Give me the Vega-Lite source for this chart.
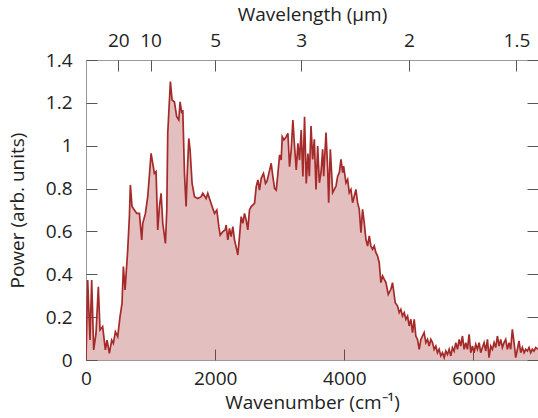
{
  "$schema": "https://vega.github.io/schema/vega-lite/v6.json",
  "width": 452,
  "height": 300,
  "autosize": "none",
  "padding": {"left": 86, "top": 60, "right": 0, "bottom": 58},
  "background": "white",
  "config": {
    "view": {"stroke": "#999999", "strokeWidth": 1},
    "font": "Open Sans",
    "axis": {
      "grid": false,
      "domain": false,
      "labelFlush": false,
      "labelFont": "Open Sans",
      "titleFont": "Open Sans",
      "labelFontSize": 19,
      "titleFontSize": 19,
      "labelColor": "#222222",
      "titleColor": "#222222",
      "titleFontWeight": "normal",
      "tickColor": "#555555",
      "tickWidth": 1
    }
  },
  "data": {"values": [
    {"wn": 0, "power": 0}, {"wn": 26, "power": 0.373}, {"wn": 62, "power": 0.093}, {"wn": 88, "power": 0.373},
    {"wn": 119, "power": 0.047}, {"wn": 155, "power": 0.124}, {"wn": 191, "power": 0.342}, {"wn": 217, "power": 0.14},
    {"wn": 258, "power": 0.156}, {"wn": 300, "power": 0.047}, {"wn": 326, "power": 0.093}, {"wn": 362, "power": 0.031},
    {"wn": 398, "power": 0.093}, {"wn": 424, "power": 0.078}, {"wn": 455, "power": 0.132}, {"wn": 491, "power": 0.109},
    {"wn": 527, "power": 0.202}, {"wn": 558, "power": 0.264}, {"wn": 579, "power": 0.436}, {"wn": 605, "power": 0.327},
    {"wn": 646, "power": 0.513}, {"wn": 672, "power": 0.669}, {"wn": 687, "power": 0.817}, {"wn": 713, "power": 0.716},
    {"wn": 749, "power": 0.70}, {"wn": 786, "power": 0.684}, {"wn": 827, "power": 0.684}, {"wn": 863, "power": 0.56},
    {"wn": 879, "power": 0.638}, {"wn": 920, "power": 0.684}, {"wn": 956, "power": 0.762}, {"wn": 1008, "power": 0.964},
    {"wn": 1059, "power": 0.871}, {"wn": 1085, "power": 0.879}, {"wn": 1111, "power": 0.607}, {"wn": 1137, "power": 0.716},
    {"wn": 1163, "power": 0.778}, {"wn": 1189, "power": 0.638}, {"wn": 1230, "power": 0.544}, {"wn": 1251, "power": 0.70},
    {"wn": 1266, "power": 1.058}, {"wn": 1307, "power": 1.299}, {"wn": 1333, "power": 1.213}, {"wn": 1369, "power": 1.205},
    {"wn": 1405, "power": 1.135}, {"wn": 1437, "power": 1.12}, {"wn": 1457, "power": 1.205}, {"wn": 1483, "power": 1.151},
    {"wn": 1499, "power": 1.167}, {"wn": 1525, "power": 0.871}, {"wn": 1550, "power": 0.716}, {"wn": 1566, "power": 0.856},
    {"wn": 1592, "power": 1.034}, {"wn": 1612, "power": 0.98}, {"wn": 1643, "power": 0.824}, {"wn": 1680, "power": 0.762},
    {"wn": 1731, "power": 0.754}, {"wn": 1783, "power": 0.762}, {"wn": 1809, "power": 0.778}, {"wn": 1860, "power": 0.754},
    {"wn": 1886, "power": 0.778}, {"wn": 1912, "power": 0.754}, {"wn": 1953, "power": 0.716}, {"wn": 1990, "power": 0.684},
    {"wn": 2026, "power": 0.70}, {"wn": 2057, "power": 0.622}, {"wn": 2078, "power": 0.583}, {"wn": 2119, "power": 0.599},
    {"wn": 2155, "power": 0.607}, {"wn": 2171, "power": 0.63}, {"wn": 2196, "power": 0.56}, {"wn": 2222, "power": 0.614},
    {"wn": 2248, "power": 0.576}, {"wn": 2274, "power": 0.622}, {"wn": 2300, "power": 0.56}, {"wn": 2336, "power": 0.513},
    {"wn": 2351, "power": 0.49}, {"wn": 2377, "power": 0.576}, {"wn": 2403, "power": 0.669}, {"wn": 2429, "power": 0.638},
    {"wn": 2455, "power": 0.684}, {"wn": 2481, "power": 0.653}, {"wn": 2506, "power": 0.607}, {"wn": 2532, "power": 0.70},
    {"wn": 2558, "power": 0.716}, {"wn": 2610, "power": 0.731}, {"wn": 2636, "power": 0.809}, {"wn": 2662, "power": 0.84},
    {"wn": 2687, "power": 0.793}, {"wn": 2713, "power": 0.848}, {"wn": 2749, "power": 0.871}, {"wn": 2780, "power": 0.824},
    {"wn": 2801, "power": 0.832}, {"wn": 2832, "power": 0.871}, {"wn": 2868, "power": 0.918}, {"wn": 2894, "power": 0.856},
    {"wn": 2920, "power": 0.801}, {"wn": 2946, "power": 0.793}, {"wn": 2972, "power": 0.871}, {"wn": 2998, "power": 0.957},
    {"wn": 3023, "power": 0.933}, {"wn": 3039, "power": 1.042}, {"wn": 3065, "power": 1.027}, {"wn": 3101, "power": 1.042},
    {"wn": 3127, "power": 1.058}, {"wn": 3152, "power": 0.902}, {"wn": 3178, "power": 0.98}, {"wn": 3204, "power": 1.12},
    {"wn": 3230, "power": 0.996}, {"wn": 3256, "power": 0.887}, {"wn": 3282, "power": 1.011}, {"wn": 3307, "power": 0.933},
    {"wn": 3333, "power": 1.073}, {"wn": 3359, "power": 0.856}, {"wn": 3385, "power": 1.135}, {"wn": 3411, "power": 0.824},
    {"wn": 3437, "power": 0.964}, {"wn": 3459, "power": 0.858}, {"wn": 3485, "power": 1.092}, {"wn": 3510, "power": 0.936},
    {"wn": 3536, "power": 1.03}, {"wn": 3562, "power": 0.796}, {"wn": 3588, "power": 0.998}, {"wn": 3614, "power": 0.827},
    {"wn": 3639, "power": 0.874}, {"wn": 3665, "power": 0.983}, {"wn": 3681, "power": 0.858}, {"wn": 3717, "power": 1.061},
    {"wn": 3743, "power": 0.89}, {"wn": 3758, "power": 0.734}, {"wn": 3784, "power": 0.983}, {"wn": 3820, "power": 0.781},
    {"wn": 3846, "power": 0.796}, {"wn": 3872, "power": 0.812}, {"wn": 3897, "power": 0.858}, {"wn": 3923, "power": 0.874},
    {"wn": 3949, "power": 0.936}, {"wn": 3975, "power": 0.874}, {"wn": 3990, "power": 0.905}, {"wn": 4026, "power": 0.827},
    {"wn": 4052, "power": 0.843}, {"wn": 4077, "power": 0.781}, {"wn": 4103, "power": 0.796}, {"wn": 4129, "power": 0.734},
    {"wn": 4155, "power": 0.765}, {"wn": 4180, "power": 0.796}, {"wn": 4206, "power": 0.734}, {"wn": 4232, "power": 0.703},
    {"wn": 4258, "power": 0.594}, {"wn": 4283, "power": 0.703}, {"wn": 4309, "power": 0.641}, {"wn": 4335, "power": 0.563},
    {"wn": 4361, "power": 0.532}, {"wn": 4387, "power": 0.579}, {"wn": 4412, "power": 0.532}, {"wn": 4438, "power": 0.516},
    {"wn": 4464, "power": 0.532}, {"wn": 4490, "power": 0.501}, {"wn": 4516, "power": 0.485}, {"wn": 4541, "power": 0.454},
    {"wn": 4567, "power": 0.361}, {"wn": 4593, "power": 0.392}, {"wn": 4619, "power": 0.376}, {"wn": 4645, "power": 0.361},
    {"wn": 4681, "power": 0.306}, {"wn": 4722, "power": 0.33}, {"wn": 4747, "power": 0.361}, {"wn": 4789, "power": 0.267},
    {"wn": 4825, "power": 0.252}, {"wn": 4851, "power": 0.221}, {"wn": 4876, "power": 0.236}, {"wn": 4902, "power": 0.205},
    {"wn": 4928, "power": 0.221}, {"wn": 4954, "power": 0.19}, {"wn": 4980, "power": 0.205}, {"wn": 5005, "power": 0.159},
    {"wn": 5031, "power": 0.19}, {"wn": 5057, "power": 0.128}, {"wn": 5083, "power": 0.19}, {"wn": 5108, "power": 0.112},
    {"wn": 5134, "power": 0.096}, {"wn": 5160, "power": 0.05}, {"wn": 5186, "power": 0.096}, {"wn": 5211, "power": 0.112},
    {"wn": 5237, "power": 0.128}, {"wn": 5263, "power": 0.081}, {"wn": 5289, "power": 0.096}, {"wn": 5314, "power": 0.065},
    {"wn": 5340, "power": 0.096}, {"wn": 5366, "power": 0.081}, {"wn": 5392, "power": 0.05}, {"wn": 5418, "power": 0.065},
    {"wn": 5443, "power": 0.034}, {"wn": 5469, "power": 0.05}, {"wn": 5495, "power": 0.019}, {"wn": 5521, "power": 0.034},
    {"wn": 5547, "power": 0.011}, {"wn": 5572, "power": 0.042}, {"wn": 5598, "power": 0.026}, {"wn": 5624, "power": 0.05},
    {"wn": 5650, "power": 0.019}, {"wn": 5675, "power": 0.058}, {"wn": 5701, "power": 0.042}, {"wn": 5727, "power": 0.081},
    {"wn": 5753, "power": 0.05}, {"wn": 5779, "power": 0.096}, {"wn": 5804, "power": 0.065}, {"wn": 5830, "power": 0.112},
    {"wn": 5856, "power": 0.05}, {"wn": 5882, "power": 0.081}, {"wn": 5907, "power": 0.05}, {"wn": 5933, "power": 0.12},
    {"wn": 5959, "power": 0.034}, {"wn": 5985, "power": 0.065}, {"wn": 6010, "power": 0.034}, {"wn": 6036, "power": 0.073},
    {"wn": 6062, "power": 0.05}, {"wn": 6088, "power": 0.081}, {"wn": 6113, "power": 0.034}, {"wn": 6139, "power": 0.058},
    {"wn": 6165, "power": 0.081}, {"wn": 6191, "power": 0.042}, {"wn": 6217, "power": 0.096}, {"wn": 6242, "power": 0.011},
    {"wn": 6268, "power": 0.065}, {"wn": 6294, "power": 0.05}, {"wn": 6320, "power": 0.081}, {"wn": 6345, "power": 0.058},
    {"wn": 6371, "power": 0.112}, {"wn": 6397, "power": 0.065}, {"wn": 6423, "power": 0.096}, {"wn": 6448, "power": 0.058},
    {"wn": 6474, "power": 0.081}, {"wn": 6500, "power": 0.096}, {"wn": 6526, "power": 0.05}, {"wn": 6552, "power": 0.081},
    {"wn": 6577, "power": 0.05}, {"wn": 6603, "power": 0.143}, {"wn": 6629, "power": 0.081}, {"wn": 6655, "power": 0.011},
    {"wn": 6681, "power": 0.05}, {"wn": 6706, "power": 0.089}, {"wn": 6732, "power": 0.034}, {"wn": 6758, "power": 0.058},
    {"wn": 6784, "power": 0.034}, {"wn": 6810, "power": 0.05}, {"wn": 6835, "power": 0.042}, {"wn": 6861, "power": 0.058},
    {"wn": 6887, "power": 0.034}, {"wn": 6912, "power": 0.05}, {"wn": 6938, "power": 0.042}, {"wn": 6964, "power": 0.058},
    {"wn": 7000, "power": 0.05}
  ]},
  "layer": [
    {
      "mark": {"type": "area", "color": "#a52a2a", "fillOpacity": 0.3, "clip": true},
      "encoding": {
        "x": {"field": "wn", "type": "quantitative",
              "scale": {"domain": [0, 7000], "nice": false},
              "axis": {"orient": "bottom", "values": [0, 2000, 4000, 6000], "tickSize": -11,
                       "labelPadding": 20, "format": "d",
                       "title": "Wavenumber (cm⁻¹)", "titlePadding": 5}},
        "y": {"field": "power", "type": "quantitative",
              "scale": {"domain": [0, 1.4], "nice": false},
              "axis": {"orient": "left", "values": [0, 0.2, 0.4, 0.6, 0.8, 1, 1.2, 1.4], "tickSize": -11,
                       "labelPadding": 25, "format": ".2~f",
                       "title": "Power (arb. units)", "titlePadding": 18}}
      }
    },
    {
      "mark": {"type": "line", "color": "#a52a2a", "strokeWidth": 1.7, "clip": true},
      "encoding": {
        "x": {"field": "wn", "type": "quantitative",
              "scale": {"domain": [0, 7000], "nice": false},
              "axis": {"orient": "top", "values": [500, 1000, 2000, 3333.3333333333335, 5000, 6666.666666666667],
                       "tickSize": -11, "labelPadding": 21,
                       "labelExpr": "format(10000 / datum.value, '.2~g')",
                       "title": "Wavelength (μm)", "titlePadding": 7}},
        "y": {"field": "power", "type": "quantitative",
              "scale": {"domain": [0, 1.4], "nice": false},
              "axis": {"orient": "right", "values": [0, 0.2, 0.4, 0.6, 0.8, 1, 1.2, 1.4], "tickSize": -11,
                       "labels": false, "title": null}}
      }
    }
  ],
  "resolve": {"axis": {"x": "independent", "y": "independent"}}
}
